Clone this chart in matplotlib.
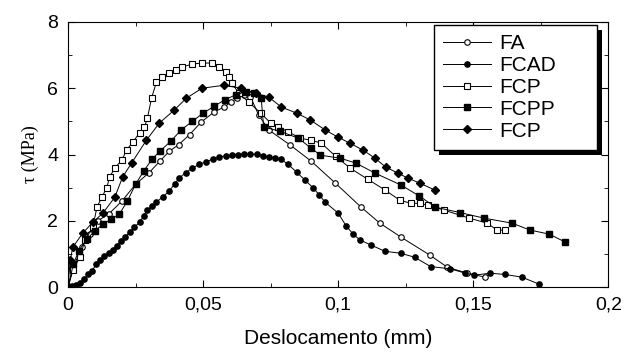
import matplotlib.pyplot as plt
from matplotlib.patches import Rectangle
from matplotlib.ticker import MultipleLocator

# ---- dados (deslocamento em mm, tau em MPa) ----
fa_x = [0, 0.002, 0.005, 0.008, 0.011, 0.015, 0.020, 0.025, 0.030, 0.034, 0.0375, 0.041, 0.045,
        0.0493, 0.054, 0.0577, 0.0603, 0.0625, 0.065, 0.0675, 0.0705, 0.0743, 0.082, 0.090,
        0.0989, 0.1085, 0.1154, 0.1232, 0.1338, 0.1404, 0.1478, 0.1544]
fa_y = [0, 0.6, 1.2, 1.6, 2.0, 2.2, 2.6, 3.1, 3.45, 3.8, 4.1, 4.3, 4.6,
        4.98, 5.28, 5.43, 5.58, 5.70, 5.80, 5.75, 5.2, 4.74, 4.3, 3.8,
        3.14, 2.41, 1.93, 1.51, 0.97, 0.60, 0.42, 0.30]

fcad_x = [0, 0.0015, 0.003, 0.0045, 0.006, 0.0075, 0.009, 0.0105, 0.012, 0.0135, 0.015, 0.0165,
          0.018, 0.0195, 0.021, 0.0228, 0.0245, 0.0265, 0.028, 0.0294, 0.031, 0.0327, 0.035,
          0.0375, 0.0395, 0.0412, 0.0435, 0.046, 0.0485, 0.0511, 0.0535, 0.0559, 0.0583, 0.0607,
          0.063, 0.0651, 0.0675, 0.0699, 0.0721, 0.0743, 0.0765, 0.0787, 0.0815, 0.0846, 0.0878,
          0.0908, 0.093, 0.0952, 0.100, 0.1029, 0.1055, 0.1081, 0.1121, 0.1173, 0.1232, 0.1283,
          0.1342, 0.1415, 0.1471, 0.1504, 0.1563, 0.1618, 0.168, 0.1743]
fcad_y = [0, 0.02, 0.06, 0.12, 0.25, 0.38, 0.5, 0.7, 0.82, 0.93, 1.02, 1.12,
          1.25, 1.38, 1.5, 1.66, 1.8, 1.96, 2.15, 2.32, 2.45, 2.56, 2.72,
          2.9, 3.12, 3.29, 3.45, 3.59, 3.7, 3.78, 3.86, 3.92, 3.96, 3.98,
          4.0, 4.01, 4.01, 4.01, 3.97, 3.93, 3.9, 3.86, 3.7, 3.47, 3.22,
          2.99, 2.78, 2.56, 2.23, 1.85, 1.6, 1.42, 1.27, 1.08, 1.02, 0.9,
          0.62, 0.55, 0.42, 0.36, 0.42, 0.38, 0.30, 0.09]

fcp_x = [0, 0.0018, 0.0044, 0.0063, 0.0092, 0.0107, 0.0125, 0.0143, 0.0154, 0.0173, 0.0199,
         0.0217, 0.0239, 0.0265, 0.0283, 0.0294, 0.0309, 0.0327, 0.0349, 0.0375, 0.0401, 0.0423,
         0.046, 0.0496, 0.0533, 0.0559, 0.0585, 0.0596, 0.0607, 0.0632, 0.0669, 0.0713, 0.075,
         0.0779, 0.0816, 0.086, 0.0901, 0.0938, 0.0990, 0.1044, 0.1110, 0.1173, 0.1228, 0.1268,
         0.1301, 0.1331, 0.1393, 0.1485, 0.1551, 0.1588, 0.1618]
fcp_y = [0, 0.51, 0.90, 1.42, 1.81, 2.41, 2.71, 2.99, 3.32, 3.59, 3.83,
         4.13, 4.37, 4.65, 4.83, 5.10, 5.70, 6.18, 6.33, 6.46, 6.55, 6.64,
         6.73, 6.76, 6.76, 6.64, 6.49, 6.33, 6.15, 5.85, 5.58, 5.25, 4.95,
         4.83, 4.68, 4.49, 4.43, 4.34, 3.95, 3.59, 3.25, 2.93, 2.62, 2.53,
         2.53, 2.47, 2.32, 2.08, 1.93, 1.72, 1.72]

fcpp_x = [0, 0.002, 0.004, 0.007, 0.010, 0.013, 0.016, 0.019, 0.022, 0.025, 0.028, 0.031,
          0.034, 0.038, 0.042, 0.046, 0.050, 0.054, 0.058, 0.062, 0.066, 0.069, 0.0715,
          0.0724, 0.0785, 0.0853, 0.090, 0.0934, 0.1007, 0.1066, 0.1136, 0.1232, 0.1300,
          0.136, 0.145, 0.154, 0.1643, 0.171, 0.178, 0.184]
fcpp_y = [0, 0.7, 1.1, 1.45, 1.7, 1.9, 2.05, 2.2, 2.6, 3.1, 3.5, 3.85,
          4.1, 4.4, 4.75, 5.0, 5.25, 5.45, 5.65, 5.8, 5.9, 5.85, 5.7,
          4.83, 4.7, 4.49, 4.19, 3.98, 3.89, 3.74, 3.44, 3.08, 2.75,
          2.41, 2.25, 2.08, 1.93, 1.72, 1.60, 1.36]

fcp2_x = [0, 0.0008, 0.0018, 0.0055, 0.0092, 0.0129, 0.0173, 0.0202, 0.0235, 0.029, 0.0338,
          0.0393, 0.0438, 0.0496, 0.0577, 0.064, 0.0695, 0.0743, 0.079, 0.0846, 0.0897, 0.0952,
          0.100, 0.1044, 0.1092, 0.1136, 0.1176, 0.1221, 0.1257, 0.1301, 0.1357]
fcp2_y = [0, 0.81, 1.21, 1.63, 1.96, 2.23, 2.71, 3.32, 3.74, 4.43, 4.95,
          5.34, 5.70, 6.00, 6.09, 6.00, 5.85, 5.73, 5.43, 5.25, 5.04, 4.74,
          4.52, 4.34, 4.13, 3.89, 3.62, 3.44, 3.29, 3.14, 2.93]

plt.rcParams['font.family'] = ['Liberation Sans', 'DejaVu Sans']

fig = plt.figure(figsize=(6.24, 3.54), dpi=100)
ax = fig.add_axes([0.109, 0.189, 0.866, 0.749])

lw = 0.7
ax.plot(fa_x, fa_y, '-o', color='k', lw=lw, ms=4, mfc='white', mew=0.8, label='FA')
ax.plot(fcad_x, fcad_y, '-o', color='k', lw=lw, ms=3.8, label='FCAD')
ax.plot(fcp_x, fcp_y, '-s', color='k', lw=lw, ms=4, mfc='white', mew=0.8, label='FCP')
ax.plot(fcpp_x, fcpp_y, '-s', color='k', lw=lw, ms=4, label='FCPP')
ax.plot(fcp2_x, fcp2_y, '-D', color='k', lw=lw, ms=4.5, label='FCP')

ax.set_xlim(0, 0.2)
ax.set_ylim(0, 8)
ax.xaxis.set_major_locator(MultipleLocator(0.05))
ax.xaxis.set_minor_locator(MultipleLocator(0.025))
ax.yaxis.set_major_locator(MultipleLocator(2))
ax.yaxis.set_minor_locator(MultipleLocator(1))
ax.set_xticks([0, 0.05, 0.1, 0.15, 0.2])
ax.set_xticklabels(['0', '0,05', '0,1', '0,15', '0,2'])
ax.tick_params(which='both', direction='in', top=True, right=True, labelsize=14, pad=7)
ax.tick_params(which='major', length=5)
ax.tick_params(which='minor', length=3)

ax.set_xlabel('Deslocamento (mm)', fontsize=15, labelpad=11)
ax.set_ylabel('τ (MPa)', fontsize=13, family=['Liberation Serif', 'DejaVu Serif'], labelpad=6)

leg = ax.legend(loc='upper left', bbox_to_anchor=(0.677, 0.99, 0.302, 0.0), mode='expand',
                fontsize=15, frameon=True, fancybox=False, edgecolor='k', framealpha=1,
                handlelength=2.3, labelspacing=0.14, borderpad=0.45, handletextpad=0.4,
                borderaxespad=0)
leg.get_frame().set_linewidth(1.0)

# sombra preta grossa da legenda
fig.canvas.draw()
bb = leg.get_frame().get_window_extent().transformed(ax.transAxes.inverted())
dx, dy = 5 / 540, 5 / 265
ax.add_patch(Rectangle((bb.x0 + dx, bb.y0 - dy), bb.width, bb.height, transform=ax.transAxes,
                       facecolor='k', edgecolor='none', zorder=4.9, clip_on=False))

fig.savefig('out.png', dpi=100)
